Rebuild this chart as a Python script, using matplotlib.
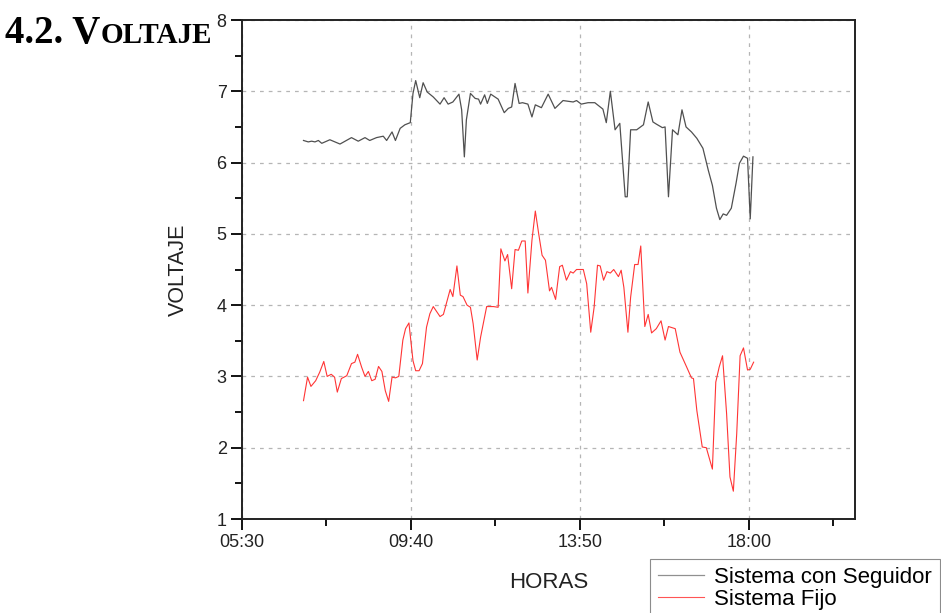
import numpy as np
import matplotlib
matplotlib.use('Agg')
from matplotlib import pyplot as plt
from matplotlib.ticker import MultipleLocator, FixedLocator, FuncFormatter

# tiempo en minutos desde 00:00
t_seg = [421, 428, 433, 438, 443, 448, 460, 475, 492, 502, 512, 519, 529, 539, 544,
         552, 557, 564, 571, 579, 583, 587, 593, 598, 604, 613, 623, 629, 635, 642,
         651, 655, 659, 662, 668, 675, 680, 683, 689, 693, 698, 709, 718, 724, 729,
         734, 740, 745, 753, 759, 764, 773, 783, 793, 805, 820, 825, 832, 842, 852,
         864, 869, 875, 882, 889, 897, 900, 905, 914, 924, 931, 938, 943, 952, 956,
         961, 967, 975, 981, 987, 995, 1003, 1012, 1020, 1026, 1032, 1037, 1042, 1047,
         1054, 1061, 1066, 1072, 1078, 1082, 1086]
v_seg = [6.31, 6.29, 6.30, 6.29, 6.31, 6.27, 6.32, 6.26, 6.35, 6.30, 6.35, 6.31, 6.35, 6.37, 6.31,
         6.43, 6.31, 6.48, 6.53, 6.56, 6.97, 7.15, 6.91, 7.12, 6.99, 6.92, 6.82, 6.91, 6.82, 6.85,
         6.96, 6.74, 6.08, 6.60, 6.97, 6.90, 6.89, 6.82, 6.95, 6.83, 6.96, 6.89, 6.70, 6.76, 6.78,
         7.11, 6.83, 6.84, 6.82, 6.64, 6.81, 6.77, 6.96, 6.76, 6.87, 6.85, 6.87, 6.82, 6.84, 6.84,
         6.75, 6.56, 7.00, 6.46, 6.55, 5.52, 5.52, 6.46, 6.46, 6.53, 6.85, 6.57, 6.54, 6.49, 6.50,
         5.52, 6.46, 6.39, 6.74, 6.50, 6.43, 6.34, 6.20, 5.89, 5.68, 5.36, 5.20, 5.28, 5.26,
         5.36, 5.71, 5.99, 6.09, 6.06, 5.21, 6.08]

t_fijo = [421, 427, 432, 439, 445, 451, 456, 462, 467, 471, 477, 485, 492, 497, 501,
          507, 512, 517, 522, 527, 532, 537, 542, 547, 552, 557, 562, 568, 572, 577,
          583, 587, 592, 597, 603, 608, 613, 623, 628, 638, 642, 648, 653, 657, 663,
          668, 672, 678, 683, 692, 702, 709, 713, 719, 723, 729, 734, 739, 744, 749,
          753, 759, 764, 769, 774, 779, 785, 788, 794, 800, 804, 810, 816, 820, 825,
          835, 840, 846, 851, 856, 860, 865, 870, 875, 880, 887, 891, 895, 901, 905,
          911, 916, 920, 926, 931, 936, 943, 950, 956, 961, 971, 978, 988, 995, 998,
          1003, 1011, 1017, 1026, 1031, 1036, 1041, 1047, 1052, 1057, 1062, 1067, 1072,
          1078, 1082, 1087]
v_fijo = [2.66, 2.99, 2.86, 2.94, 3.06, 3.21, 3.00, 3.03, 2.99, 2.78, 2.97, 3.01, 3.18, 3.20, 3.31,
          3.13, 3.00, 3.07, 2.94, 2.96, 3.14, 3.07, 2.80, 2.65, 2.99, 2.98, 3.00, 3.51, 3.67, 3.75,
          3.22, 3.08, 3.08, 3.18, 3.69, 3.88, 3.98, 3.84, 3.87, 4.22, 4.12, 4.55, 4.14, 4.12, 4.00,
          3.97, 3.74, 3.23, 3.55, 3.98, 3.98, 3.97, 4.79, 4.62, 4.71, 4.23, 4.78, 4.77, 4.90, 4.90,
          4.17, 4.91, 5.32, 5.00, 4.70, 4.63, 4.20, 4.25, 4.08, 4.54, 4.56, 4.35, 4.47, 4.45, 4.50,
          4.50, 4.30, 3.62, 3.97, 4.56, 4.55, 4.35, 4.47, 4.45, 4.50, 4.40, 4.49, 4.25, 3.62, 4.11,
          4.57, 4.57, 4.83, 3.70, 3.87, 3.61, 3.67, 3.78, 3.51, 3.70, 3.67, 3.34, 3.13, 2.98, 2.97,
          2.52, 2.01, 2.00, 1.70, 2.92, 3.13, 3.29, 2.48, 1.59, 1.39, 2.20, 3.29, 3.40,
          3.09, 3.10, 3.20]

xticks = [330, 580, 830, 1080]        # 05:30, 09:40, 13:50, 18:00
xminor = [455, 705, 955, 1205]


def hhmm(x, pos):
	x = int(round(x))
	return '%02d:%02d' % (x // 60, x % 60)


fig = plt.figure(figsize=(9.41, 6.13), dpi=100)
ax = fig.add_axes([242/941, 1-519/613, (855-242)/941, (519-20)/613])

ax.plot(t_seg, v_seg, color='#505050', lw=0.9, label='Sistema con Seguidor')
ax.plot(t_fijo, v_fijo, color='#ff3535', lw=0.8, label='Sistema Fijo')

ax.set_xlim(330, 1237)
ax.set_ylim(1, 8)
ax.set_xticks(xticks)
ax.xaxis.set_major_formatter(FuncFormatter(hhmm))
ax.xaxis.set_minor_locator(FixedLocator(xminor))
ax.yaxis.set_major_locator(MultipleLocator(1))
ax.yaxis.set_minor_locator(MultipleLocator(0.5))
ax.tick_params(which='major', direction='out', length=8, width=1.3, labelsize=13,
               labelcolor='#222222', pad=3)
ax.tick_params(which='minor', direction='out', length=5, width=1.3)
for lab in ax.get_xticklabels() + ax.get_yticklabels():
	lab.set_family('Liberation Sans')
for s in ax.spines.values():
	s.set_linewidth(1.4)
	s.set_color('#222222')

ax.grid(True, which='major', color='#b5b5b5', ls=(0, (3, 4)), lw=0.9)

ax.set_xlabel('HORAS', fontsize=16, family='Liberation Sans', color='#222222', labelpad=15)
ax.set_ylabel('VOLTAJE', fontsize=15.5, family='Liberation Sans', color='#222222', labelpad=20)

leg = fig.legend(loc='upper left', bbox_to_anchor=(650/941, 1-559/613), frameon=True,
                 fancybox=False, borderaxespad=0, handlelength=2.1, handletextpad=0.45,
                 labelspacing=0.05, borderpad=0.35, prop={'family': 'Liberation Sans', 'size': 16})
leg.get_frame().set_edgecolor('#707070')
leg.get_frame().set_linewidth(0.8)
leg.get_lines()[0].set_color('#909090')
leg.get_lines()[1].set_color('#ff5555')

# titulo en versalitas
t1 = fig.text(5/941, 1-43/613, '4.2. V', fontsize=28, fontweight='bold', family='Liberation Serif')
fig.canvas.draw()
bb = t1.get_window_extent()
fig.text(bb.x1/941, 1-43/613, 'OLTAJE', fontsize=21, fontweight='bold', family='Liberation Serif')

fig.savefig('out.png', dpi=100)
